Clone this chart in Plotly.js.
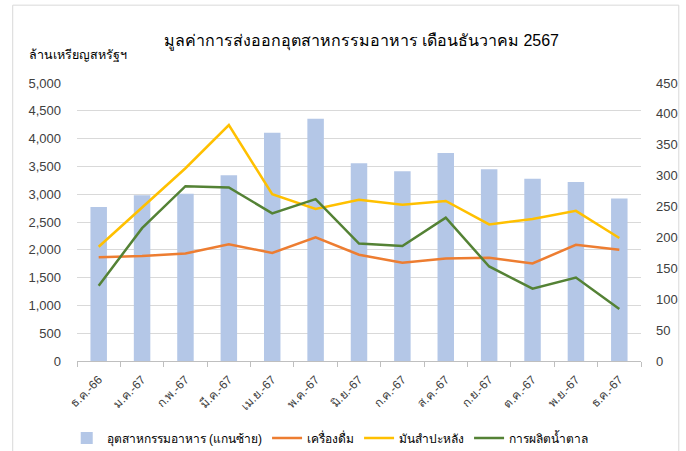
<!DOCTYPE html>
<html><head><meta charset="utf-8">
<script src="https://cdn.plot.ly/plotly-3.0.1.min.js"></script>
<style>html,body{margin:0;padding:0;background:#fff}#c{width:686px;height:451px}</style>
</head><body><div id="c"></div>
<script>
const months = ["ธ.ค.-66","ม.ค.-67","ก.พ.-67","มี.ค.-67","เม.ย.-67","พ.ค.-67","มิ.ย.-67","ก.ค.-67","ส.ค.-67","ก.ย.-67","ต.ค.-67","พ.ย.-67","ธ.ค.-67"];
const foodIndustry = [2770,2980,3010,3340,4105,4357,3555,3411,3740,3447,3280,3219,2921];
const beverages = [168,170,174,189,175,200,172,159,166,167,158,188,180];
const cassava = [185,249,312,382,270,246,261,253,259,221,230,243,199];
const sugar = [122,215,283,281,239,262,190,186,232,153,117,135,84];
const F = "Liberation Sans, Arial, Noto Sans, sans-serif";
const traces = [
 {type:"bar", x:months, y:foodIndustry, name:"อุตสาหกรรมอาหาร (แกนซ้าย)", marker:{color:"#b4c7e7"}, yaxis:"y"},
 {type:"scatter", mode:"lines", x:months, y:beverages, name:"เครื่องดื่ม", line:{color:"#ed7d31", width:2.5}, yaxis:"y2"},
 {type:"scatter", mode:"lines", x:months, y:cassava, name:"มันสำปะหลัง", line:{color:"#ffc000", width:2.5}, yaxis:"y2"},
 {type:"scatter", mode:"lines", x:months, y:sugar, name:"การผลิตน้ำตาล", line:{color:"#548235", width:2.5}, yaxis:"y2"}
];
const layout = {
 width:686, height:451,
 margin:{l:77, r:45, t:83, b:90, autoexpand:false},
 paper_bgcolor:"#fff", plot_bgcolor:"#fff",
 font:{family:F, size:12, color:"#404040"},
 title:{text:"มูลค่าการส่งออกอุตสาหกรรมอาหาร เดือนธันวาคม 2567", xref:"paper", x:0.504, xanchor:"center", y:0.911, yanchor:"middle", font:{size:16, color:"#000"}},
 bargap:0.62,
 showlegend:true,
 legend:{orientation:"h", x:0.449, xanchor:"center", y:-0.277, yanchor:"middle", font:{size:12, color:"#000"}, traceorder:"normal", itemwidth:30},
 xaxis:{type:"category", automargin:false, tickangle:-45, showgrid:false, showline:true, linecolor:"#bfbfbf", ticks:"outside", tickson:"boundaries", ticklen:5, tickcolor:"#bfbfbf", tickfont:{size:12, color:"#404040"}, ticklabelstandoff:6},
 yaxis:{range:[0,5000], automargin:false, dtick:500, tickformat:",", showgrid:true, gridcolor:"#d9d9d9", zeroline:false, showline:false, ticks:"", tickfont:{size:13, color:"#404040"}, ticklabelstandoff:15},
 yaxis2:{range:[0,450], automargin:false, dtick:50, overlaying:"y", side:"right", showgrid:false, zeroline:false, showline:false, tickfont:{size:13, color:"#404040"}, ticklabelstandoff:14},
 annotations:[{text:"ล้านเหรียญสหรัฐฯ", xref:"paper", yref:"paper", x:-0.0887, xanchor:"left", y:1.10, yanchor:"middle", showarrow:false, font:{size:12.5, color:"#000"}}],
 shapes:[{type:"rect", xref:"paper", yref:"paper", x0:-0.114, x1:1.067, y0:-0.5, y1:1.28, line:{color:"#d9d9d9", width:1}, fillcolor:"rgba(0,0,0,0)"}]
};
Plotly.newPlot("c", traces, layout, {displayModeBar:false, staticPlot:true});
</script></body></html>
